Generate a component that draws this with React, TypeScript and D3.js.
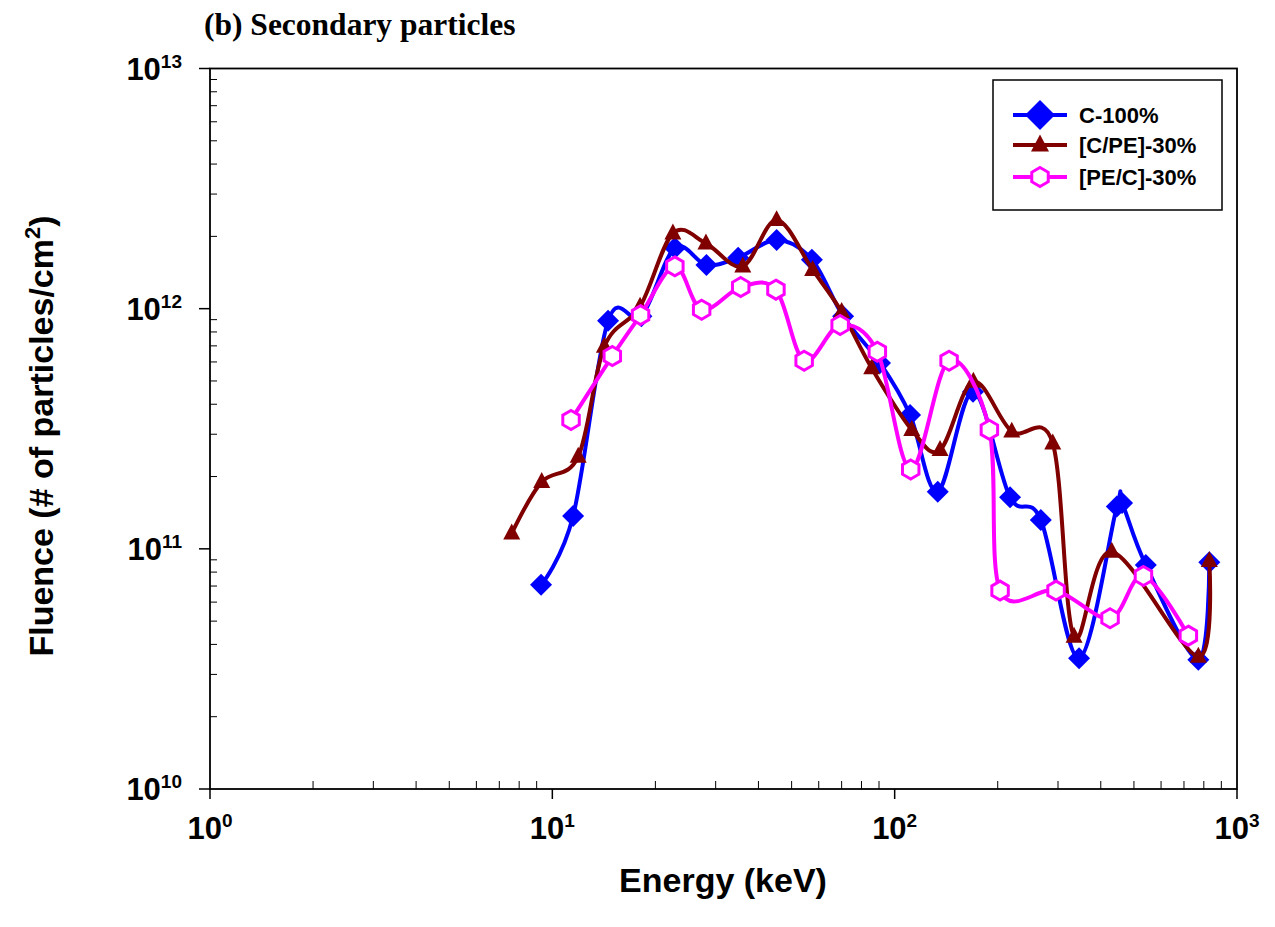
import React from 'react';
import * as d3 from 'd3';

// energies (keV) and fluence (particles/cm^2)
const c100Energy = [9.27, 11.5, 14.55, 18.2, 22.8, 28.2, 34.9, 45.2, 57.3, 70.7, 90.6, 110.9, 133.6, 169.4, 217.3, 267.3, 345.7, 445.6, 461.6, 541.5, 771, 830];
const c100Fluence = [7.08e10, 1.37e11, 8.9e11, 9.3e11, 1.79e12, 1.52e12, 1.63e12, 1.93e12, 1.6e12, 9.3e11, 5.94e11, 3.61e11, 1.73e11, 4.51e11, 1.64e11, 1.32e11, 3.5e10, 1.5e11, 1.55e11, 8.57e10, 3.45e10, 8.8e10];

const cpeEnergy = [7.61, 9.31, 11.9, 14.19, 18.04, 22.5, 28.1, 36.0, 45.2, 57.6, 70.0, 85.7, 112.2, 135.7, 169.8, 219.8, 289.6, 334.2, 430.7, 771, 830];
const cpeFluence = [1.16e11, 1.9e11, 2.42e11, 6.95e11, 1.02e12, 2.06e12, 1.87e12, 1.5e12, 2.34e12, 1.45e12, 9.7e11, 5.65e11, 3.13e11, 2.58e11, 4.97e11, 3.08e11, 2.75e11, 4.31e10, 9.73e10, 3.56e10, 8.9e10];

const pecEnergy = [11.34, 14.97, 18.1, 22.8, 27.3, 35.5, 45.0, 54.4, 69.3, 89.0, 111.4, 144.2, 189.1, 203.2, 296.1, 425.8, 533.0, 721];
const pecFluence = [3.44e11, 6.35e11, 9.4e11, 1.5e12, 9.9e11, 1.23e12, 1.2e12, 6.07e11, 8.55e11, 6.62e11, 2.14e11, 6.07e11, 3.13e11, 6.7e10, 6.7e10, 5.14e10, 7.71e10, 4.35e10];

const xTickExp = [0, 1, 2, 3];
const yTickExp = [10, 11, 12, 13];
const seriesNames = ['C-100%', '[C/PE]-30%', '[PE/C]-30%'];

const W = 1275;
const H = 927;
const margin = { left: 210, right: 38, top: 68.5, bottom: 138 };
const sans = "Arial, 'Liberation Sans', sans-serif";
const serif = "'Times New Roman', 'Liberation Serif', serif";

const diamond = (r: number) => `M0,${-r}L${r},0L0,${r}L${-r},0Z`;
const triangle = (w: number) => `M0,${-w * 0.58}L${w / 2},${w * 0.36}L${-w / 2},${w * 0.36}Z`;
const hexagon = (r: number) =>
  d3.range(6).map(i => {
    const a = (Math.PI / 3) * i - Math.PI / 2;
    return `${i ? 'L' : 'M'}${(r * Math.cos(a)).toFixed(2)},${(r * Math.sin(a)).toFixed(2)}`;
  }).join('') + 'Z';

const series = [
  { name: seriesNames[0], xs: c100Energy, ys: c100Fluence, color: '#0000FF', marker: diamond(11), legendMarker: diamond(15), fill: '#0000FF', mw: 0 },
  { name: seriesNames[1], xs: cpeEnergy, ys: cpeFluence, color: '#800000', marker: triangle(17), legendMarker: triangle(18), fill: '#800000', mw: 0 },
  { name: seriesNames[2], xs: pecEnergy, ys: pecFluence, color: '#FF00FF', marker: hexagon(9.5), legendMarker: hexagon(9.5), fill: '#FFFFFF', mw: 3 },
];

export default function App() {
  const x = d3.scaleLog().domain([1, 1000]).range([margin.left, W - margin.right]);
  const y = d3.scaleLog().domain([1e10, 1e13]).range([H - margin.bottom, margin.top]);
  const [x0, x1] = x.range();
  const [y0, y1] = y.range();

  const line = d3.line<[number, number]>()
    .x(d => x(d[0]))
    .y(d => y(d[1]))
    .curve(d3.curveCatmullRom.alpha(0));

  const xMinor: number[] = [];
  xTickExp.slice(0, -1).forEach(e => d3.range(2, 10).forEach(m => xMinor.push(m * 10 ** e)));
  const yMinor: number[] = [];
  yTickExp.slice(0, -1).forEach(e => d3.range(2, 10).forEach(m => yMinor.push(m * 10 ** e)));

  const legend = { x: 993, y: 80, w: 229, h: 130, rows: [115, 145, 177] };

  return (
    <svg width={W} height={H} style={{ position: 'absolute', left: 0, top: 0, background: '#fff' }}>
      <text x={204} y={35} fontFamily={serif} fontWeight="bold" fontSize={31.5}>(b) Secondary particles</text>

      {/* frame */}
      <rect x={x0} y={y1} width={x1 - x0} height={y0 - y1} fill="none" stroke="#000" strokeWidth={1.8} />

      {/* x ticks */}
      {xTickExp.map(e => (
        <g key={'xt' + e}>
          <line x1={x(10 ** e)} x2={x(10 ** e)} y1={y0} y2={y0 + 10} stroke="#000" strokeWidth={1.5} />
          <text x={x(10 ** e)} y={839} textAnchor="middle" fontFamily={sans} fontWeight="bold" fontSize={31}>
            10<tspan fontSize={19} dy={-12}>{e}</tspan>
          </text>
        </g>
      ))}
      {xMinor.map(v => (
        <line key={'xm' + v} x1={x(v)} x2={x(v)} y1={y0} y2={y0 - 8} stroke="#000" strokeWidth={1} />
      ))}

      {/* y ticks */}
      {yTickExp.map(e => (
        <g key={'yt' + e}>
          <line x1={x0 - 11} x2={x0} y1={y(10 ** e)} y2={y(10 ** e)} stroke="#000" strokeWidth={1.5} />
          <text x={182} y={y(10 ** e) + 11} textAnchor="end" fontFamily={sans} fontWeight="bold" fontSize={31}>
            10<tspan fontSize={19} dy={-12}>{e}</tspan>
          </text>
        </g>
      ))}
      {yMinor.map(v => (
        <line key={'ym' + v} x1={x0} x2={x0 + 7} y1={y(v)} y2={y(v)} stroke="#000" strokeWidth={1} />
      ))}

      <text x={723} y={892} textAnchor="middle" fontFamily={sans} fontWeight="bold" fontSize={34}>Energy (keV)</text>
      <text transform="translate(53,436) rotate(-90)" textAnchor="middle" fontFamily={sans} fontWeight="bold" fontSize={34}>
        Fluence (# of particles/cm<tspan fontSize={22} dy={-13}>2</tspan><tspan dy={13}>)</tspan>
      </text>

      {/* series */}
      {series.map(s => {
        const pts = s.xs.map((v, i) => [v, s.ys[i]] as [number, number]);
        return (
          <g key={s.name}>
            <path d={line(pts) || ''} fill="none" stroke={s.color} strokeWidth={4} strokeLinejoin="round" />
            {pts.map((p, i) => (
              <path key={i} d={s.marker} transform={`translate(${x(p[0])},${y(p[1])})`}
                fill={s.fill} stroke={s.mw ? s.color : 'none'} strokeWidth={s.mw} />
            ))}
          </g>
        );
      })}

      {/* legend */}
      <rect x={legend.x} y={legend.y} width={legend.w} height={legend.h} fill="#fff" stroke="#000" strokeWidth={1.5} />
      {series.map((s, i) => (
        <g key={'lg' + s.name} transform={`translate(0,${legend.rows[i]})`}>
          <line x1={1013} x2={1067} y1={0} y2={0} stroke={s.color} strokeWidth={4} />
          <path d={s.legendMarker} transform="translate(1040,0)" fill={s.fill}
            stroke={s.mw ? s.color : 'none'} strokeWidth={s.mw} />
          <text x={1079} y={8} fontFamily={sans} fontWeight="bold" fontSize={22}>{s.name}</text>
        </g>
      ))}
    </svg>
  );
}
